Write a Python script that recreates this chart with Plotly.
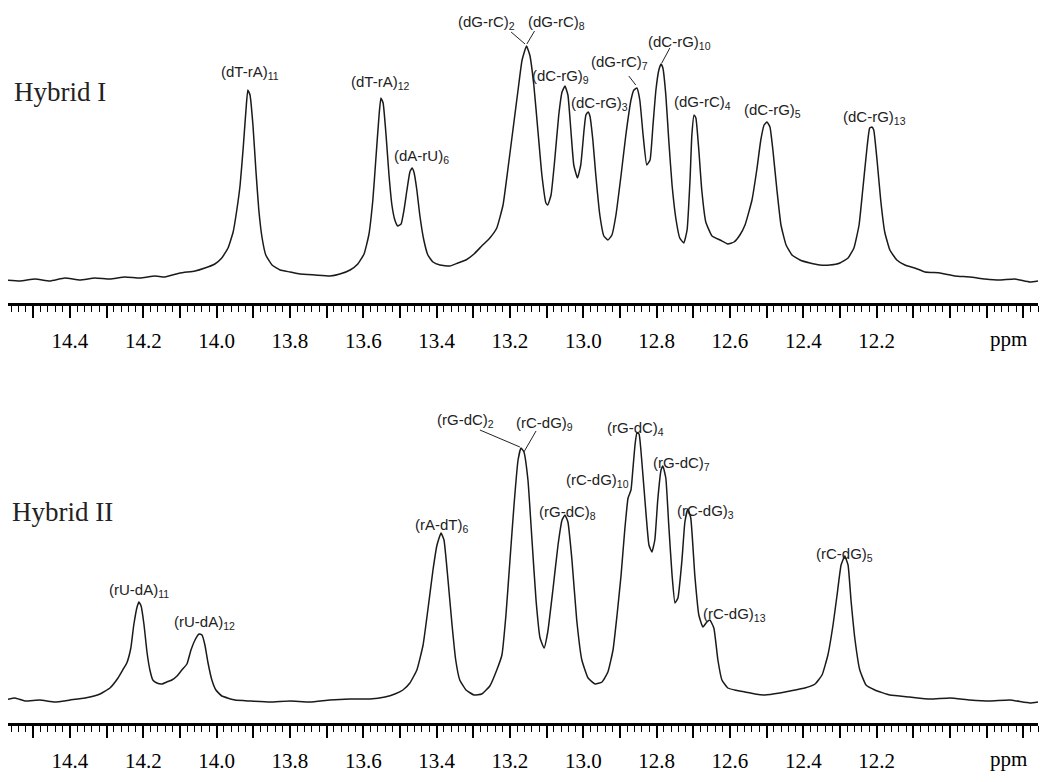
import plotly.graph_objects as go

# ---------------- data ----------------
# Hybrid I spectrum: chemical shift (ppm) and intensity (a.u.)
ppm_I = [14.577, 14.536, 14.495, 14.455, 14.414, 14.373, 14.332, 14.291, 14.250, 14.209,
         14.168, 14.141, 14.100, 14.059, 14.032, 14.005, 13.986, 13.969, 13.955, 13.945,
         13.936, 13.928, 13.920, 13.915, 13.909, 13.901, 13.893, 13.885, 13.876, 13.866,
         13.849, 13.827, 13.800, 13.773, 13.732, 13.691, 13.664, 13.636, 13.615, 13.598,
         13.585, 13.574, 13.566, 13.557, 13.552, 13.546, 13.538, 13.530, 13.522, 13.514,
         13.506, 13.497, 13.489, 13.481, 13.473, 13.467, 13.462, 13.454, 13.446, 13.435,
         13.424, 13.410, 13.391, 13.364, 13.342, 13.320, 13.298, 13.277, 13.255, 13.236,
         13.219, 13.206, 13.192, 13.178, 13.167, 13.155, 13.146, 13.135, 13.124, 13.113,
         13.102, 13.097, 13.088, 13.078, 13.067, 13.058, 13.050, 13.042, 13.034, 13.026,
         13.016, 13.007, 12.998, 12.993, 12.987, 12.982, 12.974, 12.966, 12.955, 12.944,
         12.933, 12.922, 12.911, 12.897, 12.884, 12.870, 12.862, 12.854, 12.846, 12.837,
         12.827, 12.818, 12.810, 12.802, 12.794, 12.788, 12.783, 12.775, 12.767, 12.758,
         12.747, 12.737, 12.726, 12.717, 12.709, 12.704, 12.698, 12.693, 12.685, 12.677,
         12.666, 12.649, 12.627, 12.606, 12.589, 12.573, 12.559, 12.540, 12.527, 12.516,
         12.507, 12.499, 12.491, 12.483, 12.472, 12.461, 12.447, 12.431, 12.409, 12.382,
         12.355, 12.328, 12.300, 12.278, 12.262, 12.248, 12.238, 12.227, 12.219, 12.213,
         12.208, 12.199, 12.189, 12.178, 12.164, 12.145, 12.123, 12.096, 12.068, 12.027,
         11.987, 11.946, 11.905, 11.864, 11.823, 11.782, 11.760]
int_I = [3, 2, 4, 2, 5, 3, 5, 4, 6, 5,
         7, 6, 10, 12, 15, 19, 25, 35, 51, 73,
         98, 133, 173, 193, 188, 158, 113, 73, 45, 28,
         18, 13, 11, 9, 8, 7, 9, 13, 19, 29,
         48, 83, 123, 168, 185, 180, 148, 108, 78, 63,
         57, 59, 73, 93, 111, 115, 111, 93, 68, 43,
         28, 21, 18, 17, 20, 23, 29, 37, 45, 55,
         78, 113, 153, 193, 223, 237, 228, 198, 153, 108,
         80, 78, 88, 123, 168, 191, 197, 188, 153, 118,
         105, 118, 153, 168, 171, 167, 143, 108, 68, 47,
         43, 48, 68, 108, 148, 183, 193, 195, 183, 148,
         118, 123, 158, 193, 213, 219, 215, 188, 143, 98,
         63, 45, 40, 53, 103, 148, 168, 165, 133, 93,
         61, 47, 43, 39, 41, 48, 58, 83, 113, 143,
         158, 161, 156, 133, 93, 58, 38, 28, 23, 20,
         18, 18, 20, 25, 35, 58, 93, 133, 155, 156,
         153, 123, 83, 51, 33, 23, 18, 15, 11, 10,
         7, 6, 4, 3, 4, 1, 2]

# Hybrid II spectrum
ppm_II = [14.577, 14.550, 14.523, 14.482, 14.441, 14.400, 14.359, 14.318, 14.291, 14.269,
          14.253, 14.245, 14.234, 14.226, 14.217, 14.212, 14.206, 14.198, 14.190, 14.182,
          14.174, 14.163, 14.149, 14.136, 14.122, 14.108, 14.095, 14.081, 14.070, 14.059,
          14.048, 14.040, 14.032, 14.024, 14.013, 14.002, 13.986, 13.950, 13.909, 13.855,
          13.800, 13.745, 13.691, 13.636, 13.582, 13.541, 13.514, 13.492, 13.473, 13.454,
          13.437, 13.424, 13.410, 13.399, 13.388, 13.380, 13.369, 13.358, 13.348, 13.337,
          13.320, 13.298, 13.277, 13.255, 13.236, 13.222, 13.211, 13.200, 13.189, 13.178,
          13.170, 13.162, 13.151, 13.140, 13.129, 13.118, 13.107, 13.097, 13.083, 13.069,
          13.058, 13.050, 13.042, 13.031, 13.018, 13.004, 12.987, 12.968, 12.949, 12.933,
          12.919, 12.908, 12.897, 12.887, 12.878, 12.870, 12.865, 12.859, 12.854, 12.848,
          12.843, 12.832, 12.821, 12.813, 12.805, 12.797, 12.788, 12.783, 12.775, 12.767,
          12.758, 12.750, 12.742, 12.731, 12.723, 12.715, 12.707, 12.696, 12.685, 12.674,
          12.663, 12.655, 12.644, 12.633, 12.622, 12.606, 12.587, 12.559, 12.532, 12.505,
          12.464, 12.423, 12.396, 12.368, 12.349, 12.333, 12.319, 12.308, 12.297, 12.287,
          12.278, 12.270, 12.259, 12.246, 12.229, 12.205, 12.164, 12.109, 12.055, 12.000,
          11.946, 11.891, 11.837, 11.782, 11.760]
int_II = [3, 5, 2, 3, 1, 3, 5, 9, 15, 25,
          35, 40, 55, 78, 96, 101, 97, 78, 51, 33,
          23, 20, 19, 21, 23, 27, 33, 39, 53, 63,
          69, 68, 58, 41, 23, 13, 7, 3, 2, 1,
          2, 1, 3, 4, 4, 6, 9, 13, 20, 33,
          58, 93, 133, 158, 170, 163, 123, 78, 43, 23,
          13, 8, 9, 17, 33, 48, 88, 143, 198, 243,
          255, 251, 223, 163, 103, 65, 55, 71, 113, 158,
          183, 188, 181, 143, 83, 43, 25, 19, 21, 31,
          53, 88, 128, 173, 205, 213, 233, 258, 270, 269,
          253, 203, 158, 151, 163, 203, 233, 237, 225, 178,
          128, 100, 105, 143, 181, 194, 185, 128, 88, 76,
          81, 83, 75, 43, 23, 15, 13, 11, 9, 8,
          10, 13, 15, 19, 28, 48, 78, 108, 138, 147,
          138, 103, 63, 33, 18, 13, 8, 6, 4, 5,
          3, 2, 3, 0, 1]

# peak assignments: label, ppm, intensity of label position
labels_I = ["(dT-rA)<sub>11</sub>", "(dT-rA)<sub>12</sub>", "(dA-rU)<sub>6</sub>",
            "(dG-rC)<sub>2</sub>", "(dG-rC)<sub>8</sub>", "(dC-rG)<sub>9</sub>",
            "(dC-rG)<sub>3</sub>", "(dG-rC)<sub>7</sub>", "(dC-rG)<sub>10</sub>",
            "(dG-rC)<sub>4</sub>", "(dC-rG)<sub>5</sub>", "(dC-rG)<sub>13</sub>"]
label_ppm_I = [13.909, 13.552, 13.440, 13.263, 13.072, 13.061, 12.955, 12.900, 12.737, 12.674, 12.483, 12.205]
label_int_I = [211, 201, 127, 261, 261, 207, 180, 221, 241, 181, 173, 166]

labels_II = ["(rU-dA)<sub>11</sub>", "(rU-dA)<sub>12</sub>", "(rA-dT)<sub>6</sub>",
             "(rG-dC)<sub>2</sub>", "(rC-dG)<sub>9</sub>", "(rG-dC)<sub>8</sub>",
             "(rC-dG)<sub>10</sub>", "(rG-dC)<sub>4</sub>", "(rG-dC)<sub>7</sub>",
             "(rC-dG)<sub>3</sub>", "(rC-dG)<sub>13</sub>", "(rC-dG)<sub>5</sub>"]
label_ppm_II = [14.212, 14.032, 13.386, 13.320, 13.107, 13.042, 12.960, 12.859, 12.731, 12.666, 12.589, 12.289]
label_int_II = [113, 81, 178, 283, 280, 191, 223, 275, 240, 192, 89, 149]

# leader lines: (ppm0, int0, ppm1, int1)
leaders_I = [(13.197, 251, 13.159, 239), (13.133, 252, 13.154, 239),
             (12.876, 207, 12.857, 198), (12.764, 235, 12.786, 220)]
leaders_II = [(13.282, 273, 13.173, 256), (13.129, 272, 13.162, 251)]

tick_vals = [14.5, 14.4, 14.3, 14.2, 14.1, 14.0, 13.9, 13.8, 13.7, 13.6, 13.5, 13.4, 13.3, 13.2,
             13.1, 13.0, 12.9, 12.8, 12.7, 12.6, 12.5, 12.4, 12.3, 12.2, 12.1, 12.0, 11.9, 11.8]
tick_text = ["", "14.4", "", "14.2", "", "14.0", "", "13.8", "", "13.6", "", "13.4", "", "13.2",
             "", "13.0", "", "12.8", "", "12.6", "", "12.4", "", "12.2", "", "", "", ""]

# ---------------- figure ----------------
# the page body adds an 8 px margin, so the figure is drawn 8 px in from the window edges
OFF = 8
W, H = 1050 - 2 * OFF, 782 - 2 * OFF
ML, MR = 0, 4
PW = W - ML - MR

def px(xs):
    """screen x pixel -> paper fraction"""
    return (xs - OFF - ML) / PW

def py(ys):
    """screen y pixel -> paper fraction"""
    return 1 - (ys - OFF) / H

fig = go.Figure()
line_style = dict(color="#1a1a1a", width=1.5, shape="spline", smoothing=0.4)
fig.add_trace(go.Scatter(x=ppm_I, y=int_I, mode="lines", line=line_style,
                         xaxis="x", yaxis="y", hoverinfo="skip", showlegend=False))
fig.add_trace(go.Scatter(x=ppm_II, y=int_II, mode="lines", line=line_style,
                         xaxis="x2", yaxis="y2", hoverinfo="skip", showlegend=False))

serif = "Liberation Serif, Times New Roman, serif"
xax = dict(range=[14.569, 11.760], showline=True, linewidth=2.5, linecolor="black",
           ticks="outside", ticklen=12, tickwidth=1.5, tickcolor="black",
           tickmode="array", tickvals=tick_vals, ticktext=tick_text,
           tickfont=dict(family=serif, size=21, color="black"),
           ticklabelstandoff=5,
           minor=dict(dtick=0.02, tick0=0, ticks="outside", ticklen=6, tickwidth=1.2,
                      tickcolor="black", showgrid=False),
           showgrid=False, zeroline=False, fixedrange=True)

fig.update_layout(
    width=W, height=H, plot_bgcolor="white", paper_bgcolor="white",
    margin=dict(l=ML, r=MR, t=0, b=0),
    xaxis=dict(xax, anchor="y"),
    yaxis=dict(range=[-20, 273], domain=[py(303), py(10)], visible=False, fixedrange=True),
    xaxis2=dict(xax, anchor="y2"),
    yaxis2=dict(range=[-20, 303], domain=[py(723), py(400)], visible=False, fixedrange=True),
    showlegend=False,
)

anns = []
lab_font = dict(family="Liberation Sans, Arial, sans-serif", size=15, color="#222")
for t, xv, yv in zip(labels_I, label_ppm_I, label_int_I):
    anns.append(dict(text=t, x=xv, y=yv, xref="x", yref="y", xanchor="center",
                     yanchor="middle", showarrow=False, font=lab_font))
for t, xv, yv in zip(labels_II, label_ppm_II, label_int_II):
    anns.append(dict(text=t, x=xv, y=yv, xref="x2", yref="y2", xanchor="center",
                     yanchor="middle", showarrow=False, font=lab_font))

big_font = dict(family=serif, size=27, color="#222")
anns.append(dict(text="Hybrid I", x=px(12), y=py(92), xref="paper", yref="paper",
                 xanchor="left", yanchor="middle", showarrow=False, font=big_font))
anns.append(dict(text="Hybrid II", x=px(10), y=py(512), xref="paper", yref="paper",
                 xanchor="left", yanchor="middle", showarrow=False, font=big_font))
unit_font = dict(family=serif, size=21, color="black")
anns.append(dict(text="ppm", x=px(1008), y=py(339), xref="paper", yref="paper",
                 xanchor="center", yanchor="middle", showarrow=False, font=unit_font))
anns.append(dict(text="ppm", x=px(1008), y=py(759), xref="paper", yref="paper",
                 xanchor="center", yanchor="middle", showarrow=False, font=unit_font))

shapes = []
for (x0, y0, x1, y1) in leaders_I:
    shapes.append(dict(type="line", x0=x0, y0=y0, x1=x1, y1=y1, xref="x", yref="y",
                       line=dict(color="#222", width=1)))
for (x0, y0, x1, y1) in leaders_II:
    shapes.append(dict(type="line", x0=x0, y0=y0, x1=x1, y1=y1, xref="x2", yref="y2",
                       line=dict(color="#222", width=1)))

fig.update_layout(annotations=anns, shapes=shapes)
fig.write_html("out.html")
